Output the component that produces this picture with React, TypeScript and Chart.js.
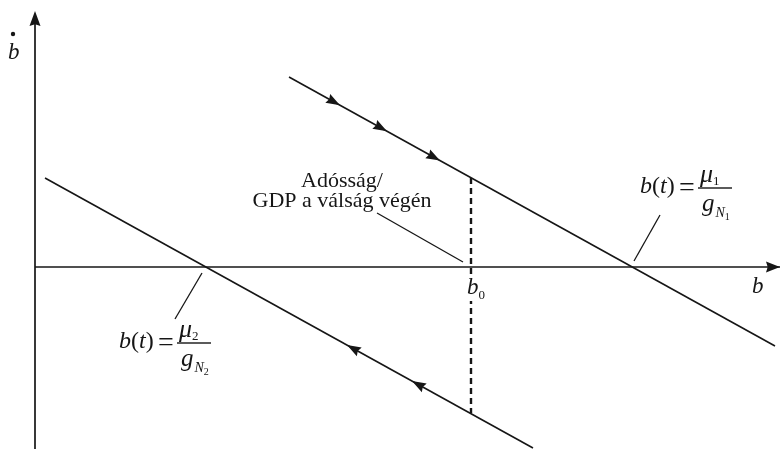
import React, { useEffect, useRef } from "react";
import { Chart, registerables } from "chart.js";

Chart.register(...registerables);

// ---- data (diagram units) ----
const line1X = [2.54, 7.4];
const line1Y = [1.9, -0.79];
const line2X = [0.1, 4.98];
const line2Y = [0.89, -1.81];
const b0Value = 4.36;
const b0SegmentY = [0.89, -1.46];
const line1ArrowX = [3.05, 3.52, 4.05];
const line2ArrowX = [3.12, 3.77];
const axisXRange = [0, 7.45];
const axisYRange = [-1.82, 2.56];
const leaderDebtX = [3.42, 4.28];
const leaderDebtY = [0.54, 0.05];
const leader1X = [6.25, 5.99];
const leader1Y = [0.52, 0.06];
const leader2X = [1.67, 1.4];
const leader2Y = [-0.06, -0.52];
const debtLabelLines = ["Adósság/", "GDP a válság végén"];
const formulaIndex = ["1", "2"];
const axisLabelX = "b";
const axisLabelY = "b";

const INK = "#161616";
const SERIF = '"Liberation Serif", "DejaVu Serif", serif';

const pts = (xs: number[], ys: number[]) => xs.map((x, i) => ({ x, y: ys[i] }));
const onLine = (xs: number[], ys: number[], x: number) =>
  ys[0] + ((ys[1] - ys[0]) * (x - xs[0])) / (xs[1] - xs[0]);

function arrowHead(ctx: CanvasRenderingContext2D, tx: number, ty: number, ang: number, len: number, hw: number) {
  const c = Math.cos(ang), s = Math.sin(ang);
  const bx = tx - len * c, by = ty - len * s;
  ctx.beginPath();
  ctx.moveTo(tx, ty);
  ctx.lineTo(bx - hw * s, by + hw * c);
  ctx.lineTo(bx + 0.12 * len * c, by + 0.12 * len * s);
  ctx.lineTo(bx + hw * s, by - hw * c);
  ctx.closePath();
  ctx.fill();
}

function drawFormula(ctx: CanvasRenderingContext2D, bx: number, by: number, idx: string) {
  ctx.textAlign = "left";
  ctx.textBaseline = "alphabetic";
  let x = bx - 58;
  const base = by + 5;
  const parts: [string, string][] = [
    ["b", `italic 24px ${SERIF}`],
    ["(", `24px ${SERIF}`],
    ["t", `italic 24px ${SERIF}`],
    [")", `24px ${SERIF}`],
  ];
  for (const [t, f] of parts) {
    ctx.font = f;
    ctx.fillText(t, x, base);
    x += ctx.measureText(t).width;
  }
  ctx.font = `28px ${SERIF}`;
  ctx.textAlign = "center";
  ctx.fillText("=", bx - 11, by + 8);
  ctx.textAlign = "left";
  ctx.fillRect(bx, by - 0.7, 34, 1.4);
  ctx.font = `italic 26px ${SERIF}`;
  ctx.fillText("μ", bx + 2, by - 6);
  const mx = bx + 2 + ctx.measureText("μ").width;
  ctx.font = `13px ${SERIF}`;
  ctx.fillText(idx, mx, by - 3);
  ctx.font = `italic 25px ${SERIF}`;
  ctx.fillText("g", bx + 4, by + 23);
  let gx = bx + 4 + ctx.measureText("g").width + 1;
  ctx.font = `italic 14px ${SERIF}`;
  ctx.fillText("N", gx, by + 29);
  gx += ctx.measureText("N").width;
  ctx.font = `10px ${SERIF}`;
  ctx.fillText(idx, gx, by + 32);
}

const overlay = {
  id: "overlay",
  afterDatasetsDraw(chart: any) {
    const ctx: CanvasRenderingContext2D = chart.ctx;
    const xs = chart.scales.x, ys = chart.scales.y;
    const X = (v: number) => xs.getPixelForValue(v);
    const Y = (v: number) => ys.getPixelForValue(v);
    ctx.save();
    ctx.fillStyle = INK;
    // axis arrowheads
    arrowHead(ctx, X(axisXRange[1]), Y(0), 0, 14, 5.5);
    arrowHead(ctx, X(0), Y(axisYRange[1]), -Math.PI / 2, 15, 5.5);
    // line arrowheads
    const a1 = Math.atan2(Y(line1Y[1]) - Y(line1Y[0]), X(line1X[1]) - X(line1X[0]));
    for (const v of line1ArrowX) arrowHead(ctx, X(v), Y(onLine(line1X, line1Y, v)), a1, 14, 5);
    const a2 = Math.atan2(Y(line2Y[0]) - Y(line2Y[1]), X(line2X[0]) - X(line2X[1]));
    for (const v of line2ArrowX) arrowHead(ctx, X(v), Y(onLine(line2X, line2Y, v)), a2, 14, 5);

    // debt label
    ctx.font = `22px ${SERIF}`;
    ctx.textAlign = "center";
    ctx.textBaseline = "alphabetic";
    const dx = X(3.07), dy = Y(0.8);
    debtLabelLines.forEach((t, i) => ctx.fillText(t, dx, dy + i * 20));

    // axis labels
    ctx.textAlign = "left";
    ctx.font = `italic 23px ${SERIF}`;
    ctx.fillText(axisLabelX, X(7.17), Y(-0.26));
    ctx.fillText(axisLabelY, X(-0.27), Y(2.08));
    ctx.beginPath();
    ctx.arc(X(-0.22), Y(2.33), 2.2, 0, Math.PI * 2);
    ctx.fill();

    // b0 label (with white backing so the dashed line breaks around it)
    const b0x = X(b0Value) - 4;
    const b0y = Y(-0.27);
    ctx.fillStyle = "#ffffff";
    ctx.fillRect(b0x - 2, b0y - 20, 20, 27);
    ctx.fillStyle = INK;
    ctx.font = `italic 23px ${SERIF}`;
    ctx.fillText("b", b0x, b0y);
    const bw = ctx.measureText("b").width;
    ctx.font = `13px ${SERIF}`;
    ctx.fillText("0", b0x + bw, b0y + 5);

    // formulas
    drawFormula(ctx, X(6.63), Y(0.79), formulaIndex[0]);
    drawFormula(ctx, X(1.42), Y(-0.76), formulaIndex[1]);
    ctx.restore();
  },
};

export default function App() {
  const ref = useRef<HTMLCanvasElement>(null);
  useEffect(() => {
    if (!ref.current) return;
    const solid = (data: any[], w = 1.5) => ({
      data,
      showLine: true,
      borderColor: INK,
      borderWidth: w,
      pointRadius: 0,
      fill: false,
      clip: false as any,
    });
    const chart = new Chart(ref.current, {
      type: "scatter",
      data: {
        datasets: [
          solid(pts(axisXRange, [0, 0]), 1.7),
          solid(pts([0, 0], [axisYRange[0], axisYRange[1] - 0.1]), 1.7),
          solid(pts(line1X, line1Y), 1.6),
          solid(pts(line2X, line2Y), 1.6),
          { ...solid(pts([b0Value, b0Value], b0SegmentY), 2.4), borderDash: [6, 4] },
          solid(pts(leaderDebtX, leaderDebtY), 1.3),
          solid(pts(leader1X, leader1Y), 1.3),
          solid(pts(leader2X, leader2Y), 1.3),
        ] as any,
      },
      options: {
        animation: false,
        responsive: false,
        devicePixelRatio: 1,
        events: [],
        layout: { padding: 0 },
        plugins: { legend: { display: false }, tooltip: { enabled: false } },
        scales: {
          x: { type: "linear", display: false, min: -0.35, max: 7.45 },
          y: { type: "linear", display: false, min: -1.82, max: 2.67 },
        },
      },
      plugins: [overlay],
    });
    return () => chart.destroy();
  }, []);
  return (
    <div style={{ position: "fixed", left: 0, top: 0, width: 780, height: 449, background: "#fff" }}>
      <canvas ref={ref} width={780} height={449} style={{ display: "block" }} />
    </div>
  );
}
